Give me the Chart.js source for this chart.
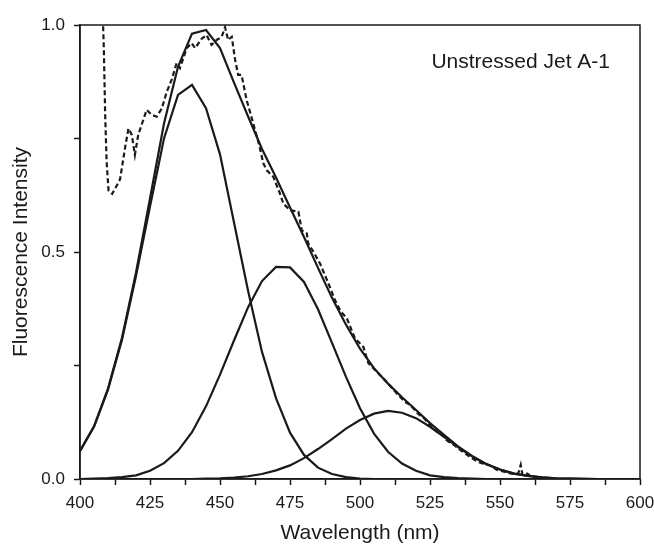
<!DOCTYPE html>
<html>
<head>
<meta charset="utf-8">
<script src="https://cdn.jsdelivr.net/npm/chart.js@4.4.0/dist/chart.umd.min.js"></script>
<style>
  body { margin: 0; background: #fff; }
  canvas { display: block; }
</style>
</head>
<body>
<canvas id="spectrum" width="654" height="546"></canvas>
<script>
// fitted curves, sampled every 5 nm
const fitWl = [400, 405, 410, 415, 420, 425, 430, 435, 440, 445, 450, 455, 460, 465, 470, 475, 480, 485, 490, 495,
  500, 505, 510, 515, 520, 525, 530, 535, 540, 545, 550, 555, 560, 565, 570, 575, 580, 585, 590, 595, 600];
const peak1 = [0.062, 0.115, 0.197, 0.307, 0.447, 0.600, 0.750, 0.846, 0.868, 0.817, 0.715, 0.565, 0.415, 0.280, 0.178, 0.102, 0.053, 0.025, 0.011, 0.004,
  0.001, 0, 0, 0, 0, 0, 0, 0, 0, 0, 0, 0, 0, 0, 0, 0, 0, 0, 0, 0, 0];
const peak2 = [0, 0.001, 0.002, 0.004, 0.008, 0.018, 0.035, 0.062, 0.103, 0.160, 0.230, 0.305, 0.378, 0.436, 0.467, 0.466, 0.434, 0.374, 0.300, 0.225,
  0.156, 0.100, 0.060, 0.034, 0.018, 0.008, 0.004, 0.002, 0.001, 0, 0, 0, 0, 0, 0, 0, 0, 0, 0, 0, 0];
const peak3 = [0, 0, 0, 0, 0, 0, 0, 0, 0, 0.001, 0.0015, 0.003, 0.006, 0.011, 0.019, 0.030, 0.046, 0.066, 0.088, 0.111,
  0.130, 0.144, 0.150, 0.146, 0.134, 0.115, 0.093, 0.070, 0.050, 0.033, 0.021, 0.012, 0.007, 0.0035, 0.0017, 0.0008, 0.0003, 0, 0, 0, 0];
const fitSum = [0.062, 0.116, 0.199, 0.311, 0.455, 0.618, 0.783, 0.908, 0.981, 0.989, 0.949, 0.873, 0.799, 0.727, 0.664, 0.598, 0.533, 0.465, 0.399, 0.340,
  0.287, 0.244, 0.210, 0.180, 0.152, 0.123, 0.097, 0.072, 0.051, 0.033, 0.021, 0.012, 0.007, 0.0035, 0.0017, 0.0008, 0.0003, 0, 0, 0, 0];

// measured spectrum (dashed)
const measWl = [408.0, 408.5, 409.0, 409.5, 410.2, 411.5, 413.0, 414.3, 416.1, 417.3, 418.5, 419.6, 420.8, 422.0, 423.8, 425.6, 427.4, 429.2,
  431.0, 432.7, 434.5, 435.7, 438.1, 439.9, 441.1, 443.5, 445.2, 447.0, 448.8, 450.6, 451.8, 452.9, 454.2, 455.4, 456.5, 457.7, 459.5,
  460.7, 462.5, 464.0, 465.5, 466.7, 469.0, 471.4, 472.6, 475.0, 478.0, 479.2, 481.0, 481.5, 483.3, 485.7, 488.7, 491.1, 493.0, 495.3,
  498.2, 501.2, 503.0, 504.8, 507.1, 509.5, 511.5, 513.7, 516.0, 518.0, 520.5, 523.0, 525.5, 527.5, 529.4, 531.0, 533.6, 536.0, 538.5,
  540.5, 541.9, 544.0, 546.1, 549.0, 551.5, 554.0, 556.5, 557.4, 558.0, 559.8, 561.0, 562.5, 563.5, 565.0];
const measInt = [1.05, 0.95, 0.80, 0.70, 0.635, 0.628, 0.645, 0.66, 0.73, 0.772, 0.758, 0.714, 0.758, 0.78, 0.813, 0.802, 0.798, 0.816,
  0.853, 0.879, 0.916, 0.905, 0.949, 0.96, 0.949, 0.97, 0.978, 0.956, 0.967, 0.974, 0.995, 0.967, 0.974, 0.923, 0.89, 0.89, 0.835,
  0.809, 0.769, 0.735, 0.695, 0.68, 0.666, 0.629, 0.607, 0.592, 0.589, 0.548, 0.541, 0.519, 0.501, 0.475, 0.431, 0.394, 0.37, 0.354,
  0.31, 0.291, 0.255, 0.244, 0.229, 0.214, 0.2, 0.185, 0.17, 0.163, 0.145, 0.133, 0.115, 0.104, 0.097, 0.085, 0.075, 0.063, 0.052,
  0.044, 0.038, 0.034, 0.031, 0.02, 0.016, 0.012, 0.012, 0.031, 0.01, 0.012, 0.006, 0.004, 0.002, 0.002];

const sampleName = 'Unstressed Jet A-1';
const ink = '#1a1a1a';
const fontFamily = '"Liberation Sans", Arial, Helvetica, sans-serif';

function pairs(xs, ys) {
  return xs.map((x, i) => ({ x: x, y: ys[i] }));
}

function solid(values) {
  return {
    data: pairs(fitWl, values),
    borderColor: ink,
    borderWidth: 2.2,
    pointRadius: 0,
    tension: 0,
    fill: false
  };
}

// box around the plot plus the sample name
const framePlugin = {
  id: 'frame',
  afterDraw(chart) {
    const { ctx, chartArea: a } = chart;
    ctx.save();
    ctx.strokeStyle = ink;
    ctx.lineWidth = 1.5;
    ctx.strokeRect(a.left, a.top, a.right - a.left, a.bottom - a.top);
    ctx.fillStyle = ink;
    ctx.font = '21px ' + fontFamily;
    ctx.textAlign = 'right';
    ctx.textBaseline = 'alphabetic';
    ctx.fillText(sampleName, a.right - 30, a.top + 43);
    ctx.restore();
  }
};

const axisGrid = {
  display: true,
  drawOnChartArea: false,
  drawTicks: true,
  tickLength: 6,
  tickColor: ink,
  tickWidth: 1.5
};

new Chart(document.getElementById('spectrum').getContext('2d'), {
  type: 'line',
  data: {
    datasets: [
      solid(peak1),
      solid(peak2),
      solid(peak3),
      solid(fitSum),
      {
        data: pairs(measWl, measInt),
        borderColor: ink,
        borderWidth: 2.2,
        borderDash: [5, 3],
        pointRadius: 0,
        tension: 0,
        fill: false
      }
    ]
  },
  options: {
    responsive: false,
    animation: false,
    layout: { padding: { top: 25, right: 14, left: 0, bottom: 0 } },
    plugins: {
      legend: { display: false },
      tooltip: { enabled: false }
    },
    scales: {
      x: {
        type: 'linear',
        min: 400,
        max: 600,
        grid: axisGrid,
        border: { display: true, color: ink, width: 1.5 },
        ticks: {
          stepSize: 12.5,
          autoSkip: false,
          maxRotation: 0,
          padding: 8,
          color: ink,
          font: { family: fontFamily, size: 17 },
          callback: (v) => (v % 25 === 0 ? String(v) : '')
        },
        title: {
          display: true,
          text: 'Wavelength (nm)',
          color: ink,
          font: { family: fontFamily, size: 21 },
          padding: { top: 0, bottom: 0 }
        },
        afterFit(scale) {
          scale.height = 67;
          scale.paddingLeft = 0;
          scale.paddingRight = 0;
        }
      },
      y: {
        min: 0,
        max: 1,
        grid: axisGrid,
        border: { display: true, color: ink, width: 1.5 },
        ticks: {
          stepSize: 0.25,
          padding: 9,
          color: ink,
          font: { family: fontFamily, size: 17 },
          callback: (v) => (Math.abs(v * 2 - Math.round(v * 2)) < 1e-9 ? v.toFixed(1) : '')
        },
        title: {
          display: true,
          text: 'Fluorescence Intensity',
          color: ink,
          font: { family: fontFamily, size: 21 },
          padding: { top: 9, bottom: 4 }
        },
        afterFit(scale) {
          scale.width = 80;
          scale.paddingTop = 0;
          scale.paddingBottom = 0;
        }
      }
    }
  },
  plugins: [framePlugin]
});
</script>
</body>
</html>
